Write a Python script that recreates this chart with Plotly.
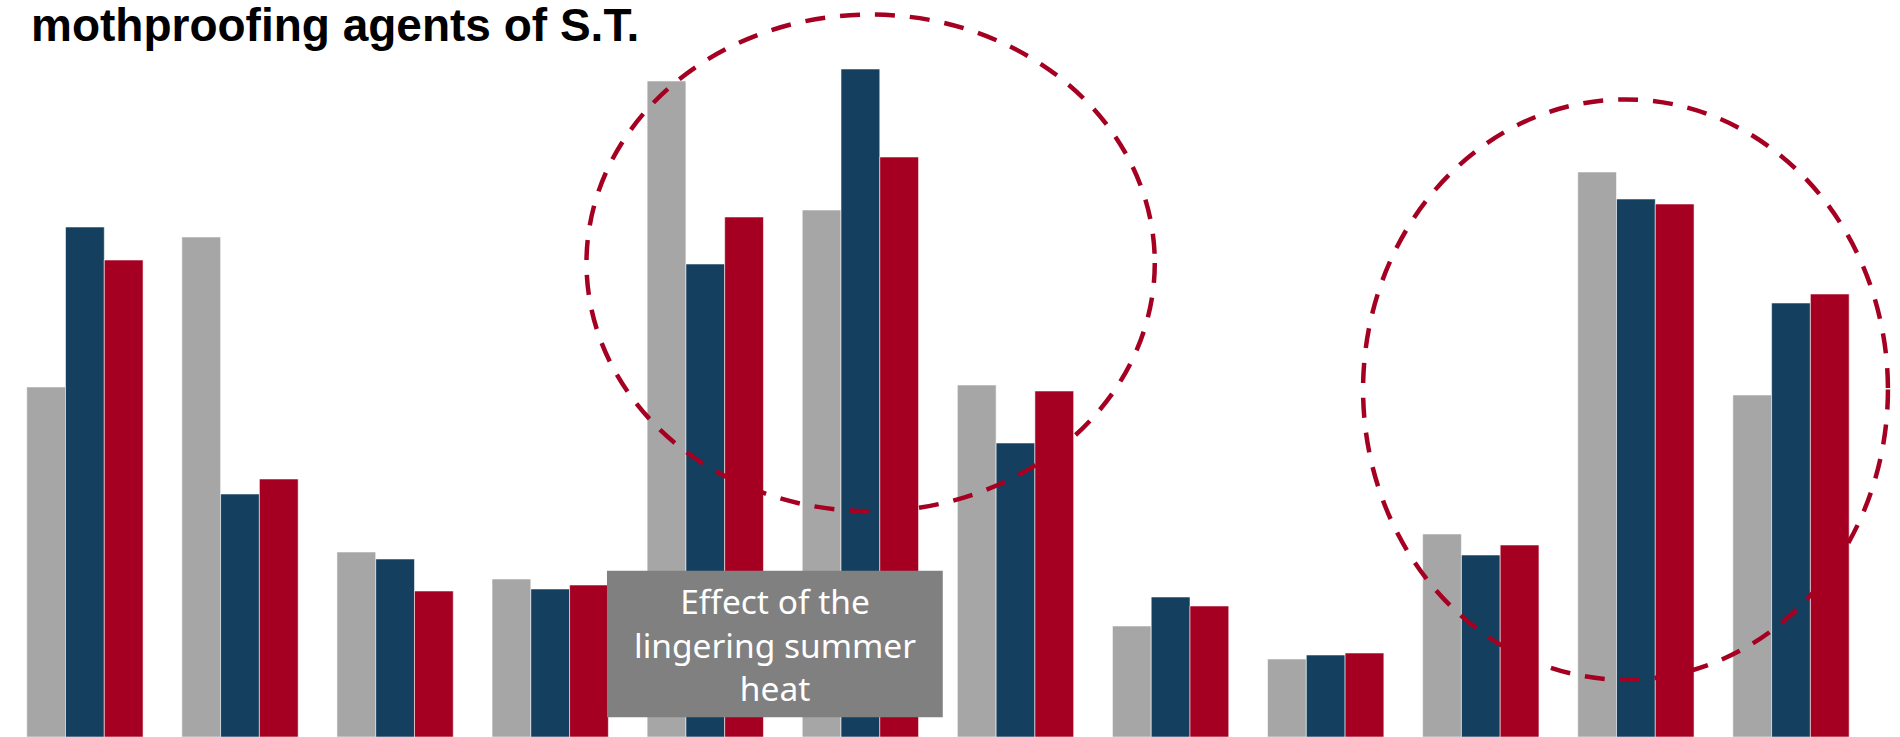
import plotly.graph_objects as go

# ---- data (bar heights, arbitrary units; baseline at bottom edge) ----
categories = ["1", "2", "3", "4", "5", "6", "7", "8", "9", "10", "11", "12"]
series_gray = [350, 500, 185, 158, 656, 527, 352, 111, 78, 203, 565, 342]
series_blue = [510, 243, 178, 148, 473, 668, 294, 140, 82, 182, 538, 434]
series_red = [477, 258, 146, 152, 520, 580, 346, 131, 84, 192, 533, 443]
series_names = ["Series A", "Series B", "Series C"]

title_text = "mothproofing agents of S.T."
note_lines = ["Effect of the", "lingering summer", "heat"]

GRAY = "#A6A6A6"
BLUE = "#143F5F"
RED = "#A50021"

fig = go.Figure()
for name, vals, col in zip(series_names, [series_gray, series_blue, series_red], [GRAY, BLUE, RED]):
    fig.add_trace(go.Bar(
        x=list(range(len(categories))), y=vals, name=name,
        marker=dict(color=col, line=dict(color="rgba(255,255,255,0.55)", width=1)),
        hoverinfo="skip",
    ))

unit = 155.1  # pixels per category
fig.update_layout(
    width=1900, height=737,
    margin=dict(l=0, r=0, t=0, b=0),
    paper_bgcolor="white", plot_bgcolor="white",
    barmode="group", bargap=0.25, bargroupgap=0,
    showlegend=False,
    xaxis=dict(range=[-0.5 - 7.35 / unit, -0.5 - 7.35 / unit + 1900 / unit], visible=False, fixedrange=True),
    yaxis=dict(range=[0, 737], visible=False, fixedrange=True),
    title=dict(
        text="<b>" + title_text + "</b>",
        x=31 / 1900, xanchor="left", xref="container",
        y=1 - 9 / 737, yanchor="top", yref="container",
        pad=dict(t=0, b=0, l=0, r=0),
        font=dict(family="Liberation Sans", size=46, color="black"),
    ),
)

# dashed ellipses (data coordinates)
dash_line = dict(color=RED, width=4.5, dash="20px,15px")
fig.add_shape(type="circle", xref="x", yref="y",
              x0=3.234, x1=6.898, y0=225.7, y1=722.5, line=dash_line, layer="above")
fig.add_shape(type="circle", xref="x", yref="y",
              x0=8.241, x1=11.625, y0=57.2, y1=637.6, line=dash_line, layer="above")

# gray note box
fig.add_shape(type="rect", xref="x", yref="y",
              x0=3.366, x1=5.531, y0=19.7, y1=166.3,
              fillcolor="#808080", line=dict(width=0), layer="above")
fig.add_annotation(xref="x", yref="y", x=4.449, y=93,
                   text="<br>".join(note_lines), showarrow=False,
                   align="center", xanchor="center", yanchor="middle",
                   font=dict(family="Noto Sans", size=33.5, color="white"))

fig.write_html("out.html")
